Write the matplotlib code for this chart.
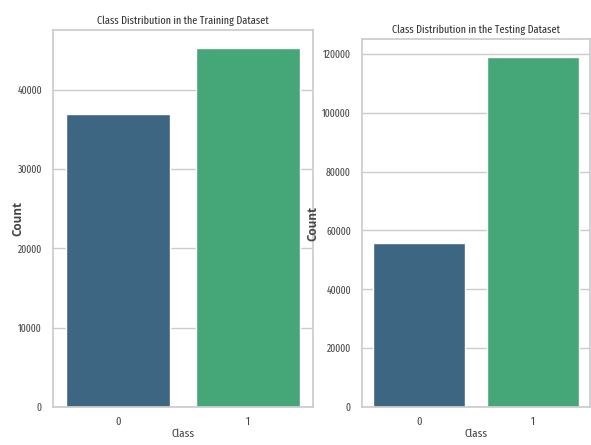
import matplotlib
matplotlib.use("Agg")
import matplotlib.pyplot as plt
import seaborn as sns
import pandas as pd

# Class counts
classes = ["0", "1"]
train_counts = [37000, 45300]
test_counts = [55600, 119100]

sns.set_theme(style="whitegrid")
plt.rcParams['font.family'] = ['Fira Sans Extra Condensed', 'DejaVu Sans']

train_df = pd.DataFrame({"Class": classes, "Count": train_counts})
test_df = pd.DataFrame({"Class": classes, "Count": test_counts})

fig = plt.figure(figsize=(5.91, 4.45), dpi=100)
W, H = 591, 445
ax1 = fig.add_axes([53 / W, 1 - 407 / H, 260 / W, 377 / H])
ax2 = fig.add_axes([362 / W, 1 - 407 / H, 228 / W, 368 / H])

for ax, df, title in [(ax1, train_df, "Class Distribution in the Training Dataset"),
                      (ax2, test_df, "Class Distribution in the Testing Dataset")]:
    sns.barplot(data=df, x="Class", y="Count", hue="Class", palette="viridis",
                legend=False, ax=ax)
    ax.set_title(title, fontsize=8, pad=4, color='#333333')
    ax.set_xlabel("Class", fontsize=8.5, labelpad=1, color='#444444')
    ax.set_ylabel("Count", fontsize=8.5, family=['Open Sans', 'DejaVu Sans'],
                  fontweight='bold', color='#444444', labelpad=2)
    ax.tick_params(axis='x', labelsize=8, pad=1, colors='#444444')
    ax.tick_params(axis='y', labelsize=7.5, pad=2, colors='#444444')
    ax.set_ylim(0, max(df["Count"]) * 1.05)

ax1.set_yticks([0, 10000, 20000, 30000, 40000])
ax2.set_yticks([0, 20000, 40000, 60000, 80000, 100000, 120000])
# left label sits where the reference has it, clear of the narrow tick labels
ax1.yaxis.set_label_coords(-29 / 260, 0.5)

fig.savefig("out.png", dpi=100)
